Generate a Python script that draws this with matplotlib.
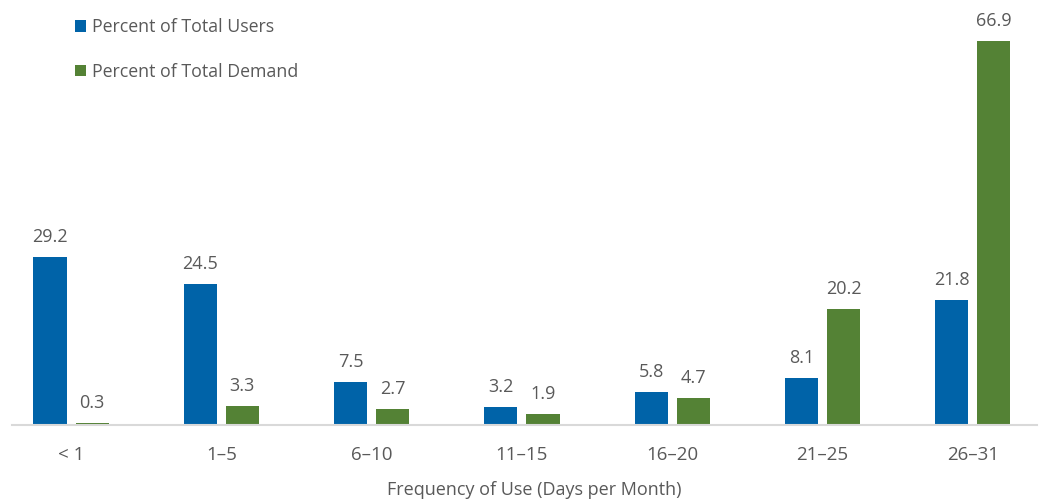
import matplotlib
matplotlib.use("Agg")
import matplotlib.pyplot as plt
import numpy as np

categories = ["< 1", "1\u20135", "6\u201310", "11\u201315", "16\u201320", "21\u201325", "26\u201331"]
users = [29.2, 24.5, 7.5, 3.2, 5.8, 8.1, 21.8]
demand = [0.3, 3.3, 2.7, 1.9, 4.7, 20.2, 66.9]
series_names = ["Percent of Total Users", "Percent of Total Demand"]
xlabel = "Frequency of Use (Days per Month)"

BLUE = "#0063A8"
GREEN = "#548235"
TXT = "#595959"
FONT = ["Open Sans", "DejaVu Sans"]
plt.rcParams['font.family'] = FONT

fig = plt.figure(figsize=(10.43, 5.01), dpi=100)
ax = fig.add_axes([12/1043, 76/501, 1025/1043, 425/501])

x = np.arange(len(categories))
w = 0.22
off = 0.14
b1 = ax.bar(x - off, users, w, color=BLUE, label=series_names[0])
b2 = ax.bar(x + off, demand, w, color=GREEN, label=series_names[1])

for bars, vals in ((b1, users), (b2, demand)):
    for r, v in zip(bars, vals):
        ax.annotate(f"{v:.1f}", (r.get_x() + r.get_width()/2, v),
                    xytext=(0, 8), textcoords="offset points",
                    ha="center", va="bottom", fontsize=13, color=TXT)

ax.set_xlim(-0.393, 6.427)
ax.set_ylim(0, 74)
ax.set_xticks(x)
ax.set_xticklabels(categories, fontsize=13.5, color=TXT)
ax.tick_params(axis="x", length=0, pad=15)
ax.set_yticks([])
for s in ("top", "right", "left"):
    ax.spines[s].set_visible(False)
ax.spines["bottom"].set_color("#D9D9D9")
ax.spines["bottom"].set_linewidth(1.5)

fig.text(534/1043, 1 - 490/501, xlabel, ha="center", va="center",
         fontsize=13, color=TXT)

leg = fig.legend(handles=[b1, b2], labels=series_names, loc="upper left",
                 bbox_to_anchor=(59/1043, 1 - 2/501), frameon=False,
                 handlelength=0.62, handleheight=0.62, handletextpad=0.35,
                 labelspacing=1.5, fontsize=12.8)
for t in leg.get_texts():
    t.set_color(TXT)

fig.savefig("out.png", dpi=100)
